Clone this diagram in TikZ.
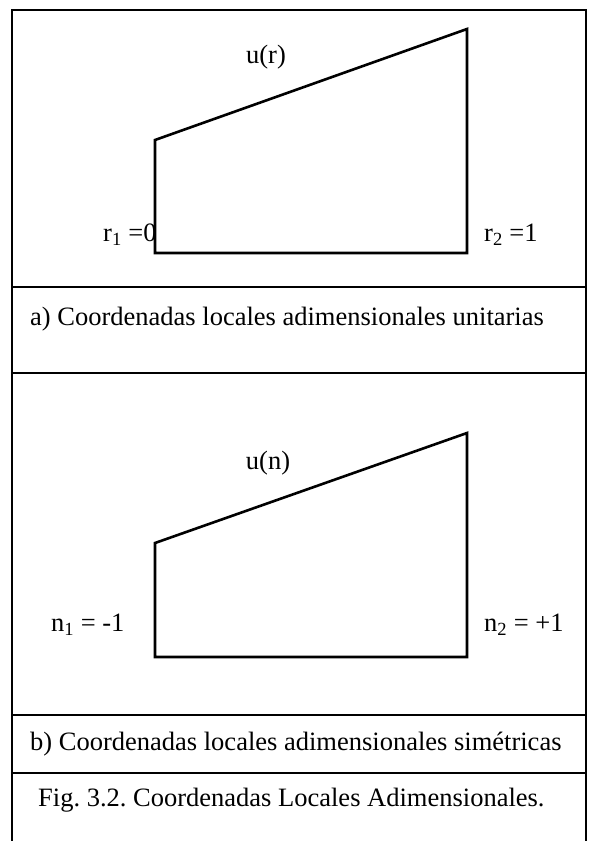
\documentclass[tikz,border=0pt]{standalone}
\usepackage{fontspec}
\setmainfont{Liberation Serif}
\usepackage{tikz}
\frenchspacing

\begin{document}
\begin{tikzpicture}[x=1pt, y=-1pt, font=\fontsize{26.5}{30}\selectfont,
  marco/.style={line width=1.6pt},
  elem/.style={line width=2.6pt, line join=miter},
  txt/.style={inner sep=0pt}]
  \useasboundingbox (0,0) rectangle (589,841);
  % marco y separadores
  \draw[marco] (12,841) -- (12,10) -- (586,10) -- (586,841);
  \draw[marco] (12,287) -- (586,287);
  \draw[marco] (12,373) -- (586,373);
  \draw[marco] (12,715) -- (586,715);
  \draw[marco] (12,773) -- (586,773);
  % a) unitarias
  \draw[elem] (155,253) -- (155,140) -- (467,29) -- (467,253) -- cycle;
  \node[txt] (ur) at (266,57) {u(r)};
  \node[txt, anchor=west] (r1) at (103,235) {r\textsubscript{1} =0};
  \node[txt, anchor=west] (r2) at (484,235) {r\textsubscript{2} =1};
  \node[txt, anchor=west] (capa) at (30,319) {a) Coordenadas locales adimensionales unitarias};
  % b) simetricas
  \draw[elem] (155,657) -- (155,543) -- (467,433) -- (467,657) -- cycle;
  \node[txt] (un) at (268,463) {u(n)};
  \node[txt, anchor=west] (n1) at (51,625) {n\textsubscript{1} = -1};
  \node[txt, anchor=west] (n2) at (484,625) {n\textsubscript{2} = +1};
  \node[txt, anchor=west] (capb) at (30,744) {b) Coordenadas locales adimensionales simétricas};
  \node[txt, anchor=west] (fig) at (38,800) {Fig. 3.2. Coordenadas Locales Adimensionales.};
\end{tikzpicture}
\end{document}
